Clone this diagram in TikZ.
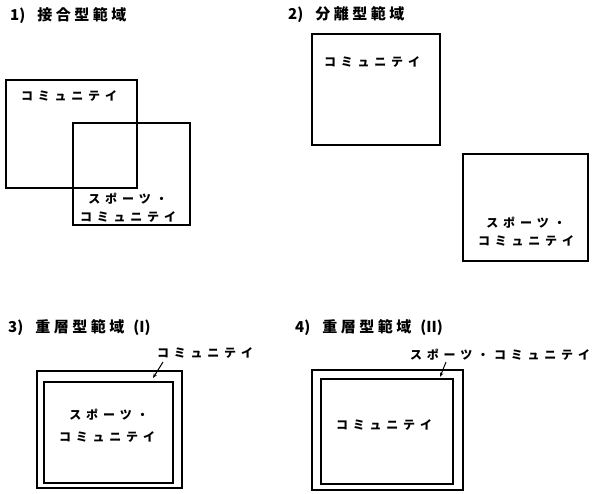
\documentclass[tikz,border=0pt]{standalone}
\usepackage{fontspec}
\setmainfont{Noto Sans CJK JP}
\usetikzlibrary{arrows.meta}
\newcommand\kgap{\hspace{4.8pt}}
\newcommand\tgap{\hspace{3.5pt}}
\newcommand\txcomm{コ\kgap ミ\kgap ュ\kgap ニ\kgap テ\kgap イ}
\newcommand\txsport{ス\kgap ポ\kgap ー\kgap ツ\kgap ・}
\tikzset{
  box/.style={draw=black, line width=1.3pt, inner sep=0pt, outer sep=0pt, rectangle},
  lab/.style={inner sep=0pt, font=\fontsize{12}{14}\selectfont\bfseries},
  ttl/.style={inner sep=0pt, anchor=west, font=\fontsize{15}{17}\selectfont\bfseries},
  arr/.style={line width=1pt, -{Stealth[length=4.5pt,width=3.5pt]}}
}
\begin{document}
\begin{tikzpicture}[x=1pt,y=-1pt]
\fill[white] (0,0) rectangle (599,493);
\useasboundingbox (0,0) rectangle (599,493);
% titles
\node[ttl] (t1) at (10,16) {1)\hspace{12pt}接\tgap 合\tgap 型\tgap 範\tgap 域};
\node[ttl] (t2) at (288,15) {2)\hspace{12pt}分\tgap 離\tgap 型\tgap 範\tgap 域};
\node[ttl] (t3) at (8,328) {3)\hspace{12pt}重\tgap 層\tgap 型\tgap 範\tgap 域\hspace{9pt}(I)};
\node[ttl] (t4) at (295,328) {4)\hspace{12pt}重\tgap 層\tgap 型\tgap 範\tgap 域\hspace{9pt}(II)};
% panel 1
\node[box, minimum width=131, minimum height=108] (b1) at (71.5,134) {};
\node[box, minimum width=117, minimum height=102] (b2) at (131.5,174) {};
\node[lab] (c1) at (69,96) {\txcomm};
\node[lab] (s2) at (128,199) {\txsport};
\node[lab] (c2) at (128,217) {\txcomm};
% panel 2
\node[box, minimum width=128, minimum height=111] (b3) at (376,89.5) {};
\node[box, minimum width=125, minimum height=107] (b4) at (525.5,207.5) {};
\node[lab] (c3) at (372,62) {\txcomm};
\node[lab] (s4) at (526,223) {\txsport};
\node[lab] (c4) at (526,241) {\txcomm};
% panel 3
\node[box, minimum width=145, minimum height=117] (b5) at (109.5,429.5) {};
\node[box, minimum width=129, minimum height=101] (b6) at (108.5,432.5) {};
\node[lab] (s6) at (109,415) {\txsport};
\node[lab] (c6) at (107,437) {\txcomm};
\node[lab] (l3) at (205,353) {\txcomm};
\coordinate (a3s) at (163,362);
\coordinate (a3e) at (153,378);
\draw[arr] (a3s) -- (a3e);
% panel 4
\node[box, minimum width=151, minimum height=120] (b7) at (387.5,430) {};
\node[box, minimum width=132, minimum height=105] (b8) at (387,431.5) {};
\node[lab] (c8) at (384,425) {\txcomm};
\node[lab] (l4) at (500,355) {\txsport\kgap\txcomm};
\coordinate (a4s) at (446,362);
\coordinate (a4e) at (440,377);
\draw[arr] (a4s) -- (a4e);
\end{tikzpicture}
\end{document}
